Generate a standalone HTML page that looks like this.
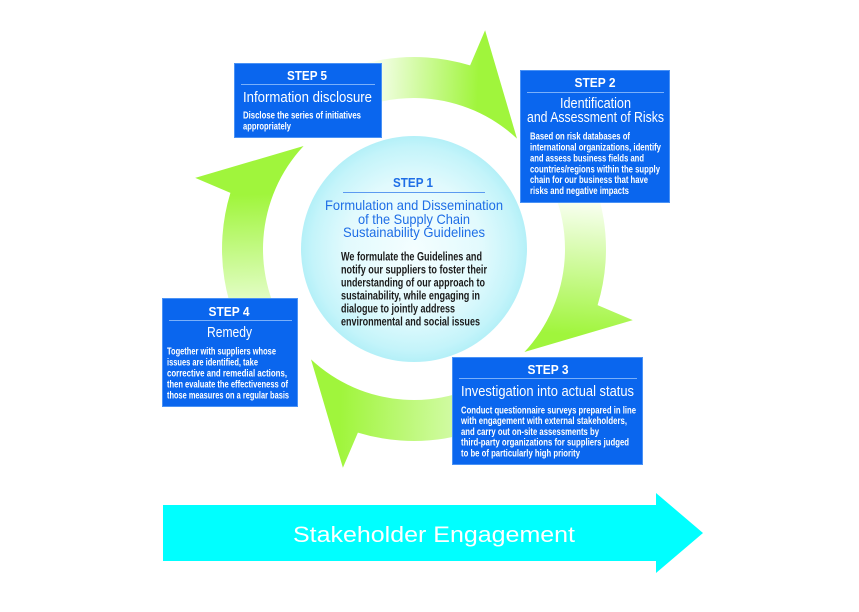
<!DOCTYPE html>
<html><head><meta charset="utf-8"><style>
html,body{margin:0;padding:0;background:#fff;}
svg{display:block;}
text{font-family:"Liberation Sans",Arial,sans-serif;}
.st{font-weight:bold;font-size:13px;fill:#fff;}
.ti{font-size:15px;fill:#fff;}
.d{font-weight:bold;font-size:10px;fill:#fff;}
.b{font-weight:bold;font-size:11.5px;fill:#1a1a1a;}
.bt{font-size:14px;fill:#1e6ee6;}
</style></head><body>
<svg width="859" height="612" viewBox="0 0 859 612" xmlns="http://www.w3.org/2000/svg">
<defs>
<linearGradient id="g1" gradientUnits="userSpaceOnUse" x1="372" y1="85" x2="478" y2="90">
<stop offset="0" stop-color="#f8fff0"/><stop offset="1" stop-color="#a0f53c"/></linearGradient>
<linearGradient id="g2" gradientUnits="userSpaceOnUse" x1="585" y1="203" x2="575" y2="335">
<stop offset="0" stop-color="#f8fff0"/><stop offset="1" stop-color="#a0f53c"/></linearGradient>
<linearGradient id="g3" gradientUnits="userSpaceOnUse" x1="520" y1="430" x2="340" y2="425">
<stop offset="0" stop-color="#eefee0"/><stop offset="1" stop-color="#a0f53c"/></linearGradient>
<linearGradient id="g4" gradientUnits="userSpaceOnUse" x1="245" y1="325" x2="240" y2="195">
<stop offset="0" stop-color="#f2ffe6"/><stop offset="1" stop-color="#a0f53c"/></linearGradient>
<radialGradient id="cg" cx="414" cy="249" r="113" gradientUnits="userSpaceOnUse">
<stop offset="0" stop-color="#f4feff"/><stop offset="0.6" stop-color="#e2fafd"/><stop offset="0.9" stop-color="#c4f4fa"/><stop offset="1" stop-color="#b4f0f8"/></radialGradient>
</defs>

<path d="M303.9,91.7 A192,192 0 0 1 470.1,65.4 L485.1,30.2 L517.0,138.6 A151,151 0 0 0 327.4,125.3 Z" fill="url(#g1)"/>
<path d="M571.3,138.9 A192,192 0 0 1 597.6,305.1 L632.8,320.1 L524.4,352.0 A151,151 0 0 0 537.7,162.4 Z" fill="url(#g2)"/>
<path d="M524.1,406.3 A192,192 0 0 1 357.9,432.6 L342.9,467.8 L311.0,359.4 A151,151 0 0 0 500.6,372.7 Z" fill="url(#g3)"/>
<path d="M256.7,359.1 A192,192 0 0 1 230.4,192.9 L195.2,177.9 L303.6,146.0 A151,151 0 0 0 290.3,335.6 Z" fill="url(#g4)"/>

<circle cx="414" cy="249" r="113" fill="url(#cg)"/>
<text class="st" x="413" y="187" text-anchor="middle" textLength="40" lengthAdjust="spacingAndGlyphs" style="fill:#1e6ee6">STEP 1</text>
<line x1="343" y1="192.5" x2="485" y2="192.5" stroke="#5c9af0" stroke-width="1"/>
<text class="bt" x="325" y="210" textLength="178" lengthAdjust="spacingAndGlyphs">Formulation and Dissemination</text>
<text class="bt" x="358" y="224" textLength="112" lengthAdjust="spacingAndGlyphs">of the Supply Chain</text>
<text class="bt" x="343" y="237" textLength="142" lengthAdjust="spacingAndGlyphs">Sustainability Guidelines</text>
<text class="b" x="341" y="260.5" textLength="141" lengthAdjust="spacingAndGlyphs">We formulate the Guidelines and</text>
<text class="b" x="341" y="273.5" textLength="146" lengthAdjust="spacingAndGlyphs">notify our suppliers to foster their</text>
<text class="b" x="341" y="286.5" textLength="144" lengthAdjust="spacingAndGlyphs">understanding of our approach to</text>
<text class="b" x="341" y="299.5" textLength="139" lengthAdjust="spacingAndGlyphs">sustainability, while engaging in</text>
<text class="b" x="341" y="312.5" textLength="114" lengthAdjust="spacingAndGlyphs">dialogue to jointly address</text>
<text class="b" x="341" y="325.5" textLength="139" lengthAdjust="spacingAndGlyphs">environmental and social issues</text>

<rect x="234.5" y="63.5" width="147" height="74" fill="#0a66ee" stroke="#4a92f5" stroke-width="1"/>
<text class="st" x="307" y="80" text-anchor="middle" textLength="40" lengthAdjust="spacingAndGlyphs">STEP 5</text>
<line x1="241" y1="84.5" x2="375" y2="84.5" stroke="#7ab0fa" stroke-width="1"/>
<text class="ti" x="243" y="102" textLength="129" lengthAdjust="spacingAndGlyphs">Information disclosure</text>
<text class="d" x="243" y="118.5" textLength="118" lengthAdjust="spacingAndGlyphs">Disclose the series of initiatives</text>
<text class="d" x="243" y="129.5" textLength="48" lengthAdjust="spacingAndGlyphs">appropriately</text>

<rect x="520.5" y="70.5" width="149" height="132" fill="#0a66ee" stroke="#4a92f5" stroke-width="1"/>
<text class="st" x="595" y="87" text-anchor="middle" textLength="41" lengthAdjust="spacingAndGlyphs">STEP 2</text>
<line x1="527" y1="92.5" x2="664" y2="92.5" stroke="#7ab0fa" stroke-width="1"/>
<text class="ti" x="560" y="108" textLength="71" lengthAdjust="spacingAndGlyphs">Identification</text>
<text class="ti" x="527" y="122" textLength="137" lengthAdjust="spacingAndGlyphs">and Assessment of Risks</text>
<text class="d" x="530" y="139.5" textLength="100" lengthAdjust="spacingAndGlyphs">Based on risk databases of</text>
<text class="d" x="530" y="150.5" textLength="131" lengthAdjust="spacingAndGlyphs">international organizations, identify</text>
<text class="d" x="530" y="161.5" textLength="114" lengthAdjust="spacingAndGlyphs">and assess business fields and</text>
<text class="d" x="530" y="172.5" textLength="130" lengthAdjust="spacingAndGlyphs">countries/regions within the supply</text>
<text class="d" x="530" y="183" textLength="118" lengthAdjust="spacingAndGlyphs">chain for our business that have</text>
<text class="d" x="530" y="194" textLength="99" lengthAdjust="spacingAndGlyphs">risks and negative impacts</text>

<rect x="162.5" y="298.5" width="135" height="108" fill="#0a66ee" stroke="#4a92f5" stroke-width="1"/>
<text class="st" x="229" y="316" text-anchor="middle" textLength="41" lengthAdjust="spacingAndGlyphs">STEP 4</text>
<line x1="169" y1="320.5" x2="292" y2="320.5" stroke="#7ab0fa" stroke-width="1"/>
<text class="ti" x="207" y="337" textLength="45" lengthAdjust="spacingAndGlyphs">Remedy</text>
<text class="d" x="167" y="354.5" textLength="109" lengthAdjust="spacingAndGlyphs">Together with suppliers whose</text>
<text class="d" x="167" y="365.5" textLength="91" lengthAdjust="spacingAndGlyphs">issues are identified, take</text>
<text class="d" x="167" y="376.5" textLength="120" lengthAdjust="spacingAndGlyphs">corrective and remedial actions,</text>
<text class="d" x="167" y="387.5" textLength="121" lengthAdjust="spacingAndGlyphs">then evaluate the effectiveness of</text>
<text class="d" x="167" y="398.5" textLength="122" lengthAdjust="spacingAndGlyphs">those measures on a regular basis</text>

<rect x="452.5" y="357.5" width="190" height="107" fill="#0a66ee" stroke="#4a92f5" stroke-width="1"/>
<text class="st" x="548" y="374" text-anchor="middle" textLength="41" lengthAdjust="spacingAndGlyphs">STEP 3</text>
<line x1="459" y1="378.5" x2="637" y2="378.5" stroke="#7ab0fa" stroke-width="1"/>
<text class="ti" x="461" y="396" textLength="173" lengthAdjust="spacingAndGlyphs">Investigation into actual status</text>
<text class="d" x="461" y="413.5" textLength="175" lengthAdjust="spacingAndGlyphs">Conduct questionnaire surveys prepared in line</text>
<text class="d" x="461" y="424" textLength="166" lengthAdjust="spacingAndGlyphs">with engagement with external stakeholders,</text>
<text class="d" x="461" y="435" textLength="138" lengthAdjust="spacingAndGlyphs">and carry out on-site assessments by</text>
<text class="d" x="461" y="445.5" textLength="168" lengthAdjust="spacingAndGlyphs">third-party organizations for suppliers judged</text>
<text class="d" x="461" y="456.5" textLength="119" lengthAdjust="spacingAndGlyphs">to be of particularly high priority</text>

<polygon points="163,505 656,505 656,493 703,533 656,573 656,561 163,561" fill="#00ffff"/>
<text x="293" y="542" font-size="22" fill="#fff" textLength="282" lengthAdjust="spacingAndGlyphs">Stakeholder Engagement</text>
</svg>
</body></html>
